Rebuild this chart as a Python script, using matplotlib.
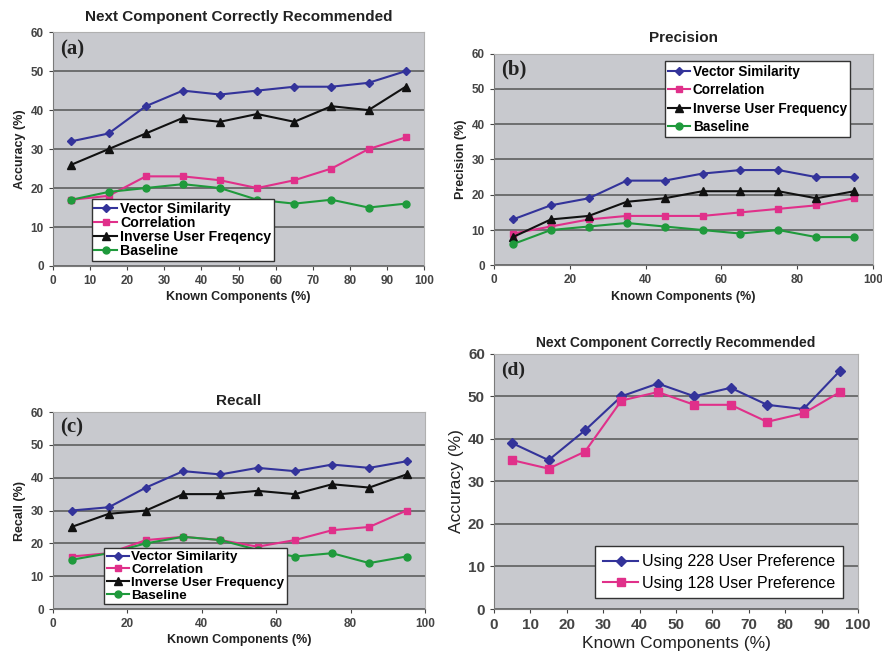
import matplotlib
matplotlib.use("Agg")
import matplotlib.pyplot as plt

BG = "#c8c9ce"; GRID = "#555555"; AX = "#7a7a7a"
BLUE = "#33339a"; PINK = "#e0308a"; BLACK = "#111111"; GREEN = "#1f9a3c"

x_known = [5, 15, 25, 35, 45, 55, 65, 75, 85, 95]
series_names = ["Vector Similarity", "Correlation", "Inverse User Freqency", "Baseline"]
series_names_b = ["Vector Similarity", "Correlation", "Inverse User Frequency", "Baseline"]

# (a) accuracy
acc_vs = [32, 34, 41, 45, 44, 45, 46, 46, 47, 50]
acc_corr = [17, 18, 23, 23, 22, 20, 22, 25, 30, 33]
acc_iuf = [26, 30, 34, 38, 37, 39, 37, 41, 40, 46]
acc_base = [17, 19, 20, 21, 20, 17, 16, 17, 15, 16]
# (b) precision
prec_vs = [13, 17, 19, 24, 24, 26, 27, 27, 25, 25]
prec_corr = [9, 11, 13, 14, 14, 14, 15, 16, 17, 19]
prec_iuf = [8, 13, 14, 18, 19, 21, 21, 21, 19, 21]
prec_base = [6, 10, 11, 12, 11, 10, 9, 10, 8, 8]
# (c) recall
rec_vs = [30, 31, 37, 42, 41, 43, 42, 44, 43, 45]
rec_corr = [16, 17, 21, 22, 21, 19, 21, 24, 25, 30]
rec_iuf = [25, 29, 30, 35, 35, 36, 35, 38, 37, 41]
rec_base = [15, 17, 20, 22, 21, 18, 16, 17, 14, 16]
# (d) user preference
pref_228 = [39, 35, 42, 50, 53, 50, 52, 48, 47, 56]
pref_128 = [35, 33, 37, 49, 51, 48, 48, 44, 46, 51]

STYLES = [(BLUE, "D", 4), (PINK, "s", 5), (BLACK, "^", 6), (GREEN, "o", 5)]
SANS = "Liberation Sans"


def frame(ax, xticks, tick_fs, label, ylabel, title, title_fs, lab_fs,
          title_pad, bold=True):
    ax.set_facecolor(BG)
    ax.set_xlim(0, 100); ax.set_ylim(0, 60)
    yt = list(range(0, 61, 10))
    ax.set_xticks(xticks, [str(v) for v in xticks], fontweight="bold",
                  family=SANS, fontsize=tick_fs, color="#222222")
    ax.set_yticks(yt, [str(v) for v in yt], fontweight="bold",
                  family=SANS, fontsize=tick_fs, color="#222222")
    ax.yaxis.grid(True, color=GRID, lw=1.1); ax.set_axisbelow(True)
    for s in ["top", "right"]:
        ax.spines[s].set_color("#b0b0b0")
    for s in ["left", "bottom"]:
        ax.spines[s].set_color(AX)
    w = "bold" if bold else "normal"
    ax.tick_params(colors="#444444", length=3)
    ax.set_xlabel("Known Components (%)", fontsize=lab_fs, fontweight=w,
                  family=SANS, color="#222222", labelpad=3)
    ax.set_ylabel(ylabel, fontsize=lab_fs, fontweight=w, family=SANS,
                  color="#222222", labelpad=3)
    ax.set_title(title, fontsize=title_fs, fontweight="bold", family=SANS,
                 color="#222222", pad=title_pad)
    ax.text(0.02, 0.97, label, transform=ax.transAxes, ha="left", va="top",
            fontsize=15 if bold else 14, fontweight="bold",
            family="Liberation Serif", color="#222222")


def four_series(ax, data, names, loc, anchor, fs, spacing=0.02, pad=0.2):
    for vals, name, (c, m, ms) in zip(data, names, STYLES):
        ax.plot(x_known, vals, color=c, marker=m, ms=ms, lw=1.5, label=name)
    leg = ax.legend(loc=loc, bbox_to_anchor=anchor, frameon=True,
                    fancybox=False, framealpha=1, edgecolor="#333333",
                    handlelength=1.6, handletextpad=0.2, labelspacing=spacing,
                    borderpad=pad, prop={"family": SANS, "weight": "bold", "size": fs})
    leg.get_frame().set_linewidth(1.0)


fig = plt.figure(figsize=(8.82, 6.70), dpi=100)
fig.patch.set_facecolor("white")

ax_a = fig.add_axes([0.060, 0.603, 0.421, 0.349])
frame(ax_a, range(0, 101, 10), 8.5, "(a)", "Accuracy (%)",
      "Next Component Correctly Recommended", 11, 9, 8)
four_series(ax_a, [acc_vs, acc_corr, acc_iuf, acc_base], series_names,
            "lower left", (0.085, -0.01), 10.2)

ax_b = fig.add_axes([0.560, 0.604, 0.430, 0.316])
frame(ax_b, range(0, 101, 20), 8.5, "(b)", "Precision (%)", "Precision", 11, 9, 8)
four_series(ax_b, [prec_vs, prec_corr, prec_iuf, prec_base], series_names_b,
            "upper right", (0.958, 0.995), 9.8, spacing=0.32, pad=0.25)

ax_c = fig.add_axes([0.060, 0.091, 0.422, 0.294])
frame(ax_c, range(0, 101, 20), 8.5, "(c)", "Recall (%)", "Recall", 11, 9, 5)
four_series(ax_c, [rec_vs, rec_corr, rec_iuf, rec_base], series_names_b,
            "lower left", (0.12, -0.01), 9.7)

ax_d = fig.add_axes([0.560, 0.091, 0.413, 0.381])
frame(ax_d, range(0, 101, 10), 11, "(d)", "Accuracy (%)",
      "Next Component Correctly Recommended", 10, 12.5, 5, bold=False)
ax_d.plot(x_known, pref_228, color=BLUE, marker="D", ms=5, lw=1.5,
          label="Using 228 User Preference")
ax_d.plot(x_known, pref_128, color=PINK, marker="s", ms=6, lw=1.5,
          label="Using 128 User Preference")
leg = ax_d.legend(loc="lower right", bbox_to_anchor=(0.98, 0.01), frameon=True,
                  fancybox=False, framealpha=1, edgecolor="#333333",
                  handlelength=2.2, handletextpad=0.2, labelspacing=0.4,
                  borderpad=0.5, prop={"family": SANS, "size": 11.5})
leg.get_frame().set_linewidth(1.0)

fig.savefig("out.png", dpi=100)
